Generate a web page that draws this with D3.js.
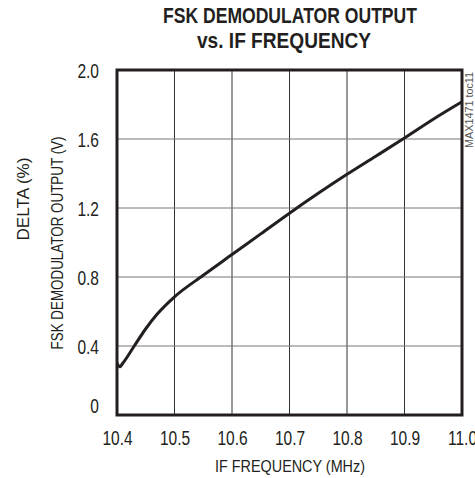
<!DOCTYPE html>
<html><head><meta charset="utf-8">
<script src="https://cdn.jsdelivr.net/npm/d3@7"></script>
<style>body{margin:0;background:#fff}</style>
</head><body>
<svg id="c" width="475" height="478"></svg>
<script>
const freq = [10.400,10.405,10.410,10.430,10.450,10.470,10.500,10.550,10.600,10.650,10.700,10.750,10.800,10.850,10.900,10.950,11.000];
const volts = [0.30,0.28,0.30,0.40,0.50,0.585,0.685,0.81,0.93,1.05,1.17,1.285,1.395,1.50,1.606,1.715,1.816];
const xTicks = [10.4,10.5,10.6,10.7,10.8,10.9,11.0];
const yTicks = [0,0.4,0.8,1.2,1.6,2.0];
const xTickLabels = ["10.4","10.5","10.6","10.7","10.8","10.9","11.0"];
const yTickLabels = ["0","0.4","0.8","1.2","1.6","2.0"];

const F = "'Liberation Sans',Arial,sans-serif";
const SX = 0.74;
const svg = d3.select("#c");
const L=117,R=462,T=70,B=415;
const x = d3.scaleLinear().domain([10.4,11.0]).range([L,R]);
const y = d3.scaleLinear().domain([0,2.0]).range([B,T]);

// grid
svg.append("g").selectAll("line").data(xTicks.slice(1,-1)).join("line")
  .attr("x1",d=>x(d)).attr("x2",d=>x(d)).attr("y1",T).attr("y2",B)
  .attr("stroke","#333").attr("stroke-width",1);
svg.append("g").selectAll("line").data(yTicks.slice(1,-1)).join("line")
  .attr("x1",L).attr("x2",R).attr("y1",d=>y(d)).attr("y2",d=>y(d))
  .attr("stroke","#777").attr("stroke-width",1);

// axes labels via d3 axes
const xa = svg.append("g").attr("transform",`translate(0,${B})`)
  .call(d3.axisBottom(x).tickValues(xTicks).tickSize(0).tickPadding(0).tickFormat((d,i)=>xTickLabels[i]));
xa.select(".domain").remove();
xa.selectAll("text").attr("font-family",F).attr("font-size",21).attr("fill","#231f20")
  .attr("dy",null).attr("y",0).attr("x",0).attr("transform",`translate(0,30) scale(${SX},1)`);
const ya = svg.append("g").attr("transform",`translate(${L},0)`)
  .call(d3.axisLeft(y).tickValues(yTicks).tickSize(0).tickPadding(0).tickFormat((d,i)=>yTickLabels[i]));
ya.select(".domain").remove();
ya.selectAll("text").attr("font-family",F).attr("font-size",21).attr("fill","#231f20")
  .attr("x",0).attr("transform",`translate(-18,0) scale(${SX},1)`)
  .attr("dy",(d)=> d===0 ? "-0.1em" : "0.36em");

// frame
svg.append("rect").attr("x",L).attr("y",T).attr("width",R-L).attr("height",B-T)
  .attr("fill","none").attr("stroke","#231f20").attr("stroke-width",3);

// curve
svg.append("path").datum(freq.map((f,i)=>[f,volts[i]]))
  .attr("d",d3.line().x(d=>x(d[0])).y(d=>y(d[1])).curve(d3.curveMonotoneX))
  .attr("fill","none").attr("stroke","#231f20").attr("stroke-width",3);

// titles
svg.append("text").attr("x",290).attr("y",23).attr("text-anchor","middle")
  .attr("font-family",F).attr("font-weight","bold").attr("font-size",22).attr("fill","#231f20")
  .attr("textLength",254).attr("lengthAdjust","spacingAndGlyphs").text("FSK DEMODULATOR OUTPUT");
svg.append("text").attr("x",284).attr("y",48).attr("text-anchor","middle")
  .attr("font-family",F).attr("font-weight","bold").attr("font-size",22).attr("fill","#231f20")
  .attr("textLength",174).attr("lengthAdjust","spacingAndGlyphs").text("vs. IF FREQUENCY");

svg.append("text").attr("x",290).attr("y",472).attr("text-anchor","middle")
  .attr("font-family",F).attr("font-size",17).attr("fill","#231f20")
  .attr("textLength",150).attr("lengthAdjust","spacingAndGlyphs").text("IF FREQUENCY (MHz)");
svg.append("text").attr("transform","translate(63,243) rotate(-90)").attr("text-anchor","middle")
  .attr("font-family",F).attr("font-size",17).attr("fill","#231f20")
  .attr("textLength",213).attr("lengthAdjust","spacingAndGlyphs").text("FSK DEMODULATOR OUTPUT (V)");
svg.append("text").attr("transform","translate(29,199) rotate(-90)").attr("text-anchor","middle")
  .attr("font-family",F).attr("font-size",17).attr("fill","#231f20")
  .attr("textLength",83).attr("lengthAdjust","spacingAndGlyphs").text("DELTA (%)");
svg.append("text").attr("transform","translate(473,110) rotate(-90)").attr("text-anchor","middle")
  .attr("font-family",F).attr("font-size",11).attr("fill","#555")
  .attr("textLength",76).attr("lengthAdjust","spacingAndGlyphs").text("MAX1471 toc11");
</script>
</body></html>
